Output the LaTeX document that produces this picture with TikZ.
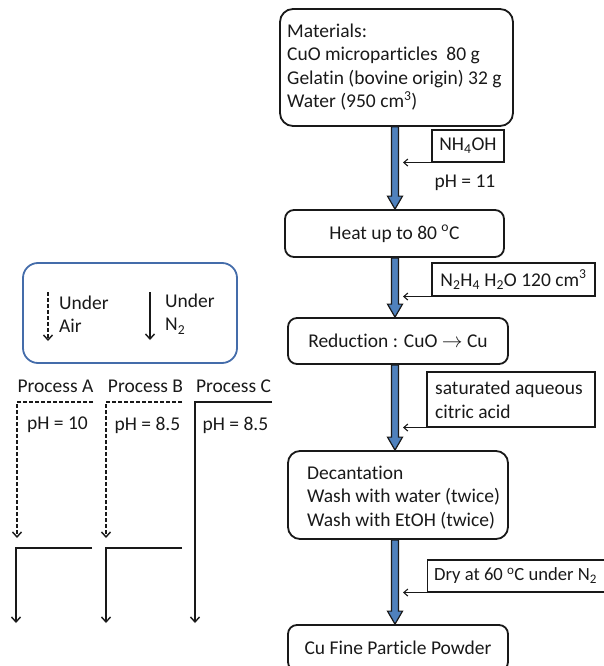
\documentclass[tikz,border=0pt]{standalone}
\usepackage{fontspec}
\setmainfont{Carlito}[Ligatures=NoCommon]
\usetikzlibrary{arrows.meta,calc}
\definecolor{flowblue}{RGB}{79,129,189}
\definecolor{legblue}{RGB}{68,108,170}
\definecolor{ink}{RGB}{25,25,25}
\newcommand\flowarrow[2]{%
  \filldraw[fill=flowblue, draw=ink, line width=1.2pt, line join=miter]
  let \p1=(#1.south -| axis), \p2=(#2.north -| axis) in
  (\x1-3.5pt,\y1) -- (\x1+3.5pt,\y1) -- (\x1+3.5pt,\y2+13pt) -- (\x1+7.5pt,\y2+13pt)
  -- (\x1,\y2) -- (\x1-7.5pt,\y2+13pt) -- (\x1-3.5pt,\y2+13pt) -- cycle;}
\newcommand\degsign{\textsuperscript{o}}
\begin{document}
\begin{tikzpicture}[x=1pt,y=-1pt,
  font=\fontsize{19.5}{23.5}\selectfont, text=ink,
  mainbox/.style={draw=ink, line width=1.8pt, rounded corners=9pt, minimum width=220pt, minimum height=46pt, inner sep=0pt},
  sidebox/.style={draw=ink, line width=1.1pt, inner sep=0pt},
  txt/.style={inner sep=0pt, align=left},
  feed/.style={draw=ink, line width=1.1pt, -{Straight Barb[length=4pt,width=7pt]}},
  proc/.style={draw=ink, line width=1.4pt},
  procarrow/.style={proc, -{Straight Barb[length=5pt,width=9pt]}},
  airline/.style={dash pattern=on 4pt off 2pt},
]
\useasboundingbox (0,0) rectangle (604,666);
\clip (0,0) rectangle (604,666);
\coordinate (axis) at (395,0);
\coordinate (tipx) at (403,0);

% main flow boxes
\node[mainbox, rounded corners=13pt, minimum width=233pt, minimum height=117pt] (mat) at (396.5,67.5) {};
\node[txt, anchor=west] (matt) at (287,67) {Materials:\\CuO microparticles\ \ 80 g\\Gelatin (bovine origin) 32 g\\Water (950 cm\textsuperscript{3})};
\node[mainbox, minimum width=219pt, minimum height=47pt] (heat) at (394.5,233.5) {Heat up to 80 \degsign C};
\node[mainbox] (red) at (398,341) {Reduction : CuO $\rightarrow$ Cu};
\node[mainbox, rounded corners=12pt, minimum height=88pt] (dec) at (398,495) {};
\node[txt, anchor=west] (dect) at (307,497.5) {Decantation\\Wash with water (twice)\\Wash with EtOH (twice)};
\node[mainbox, minimum height=46pt] (cu) at (398,648) {Cu Fine Particle Powder};

\flowarrow{mat}{heat}
\flowarrow{heat}{red}
\flowarrow{red}{dec}
\flowarrow{dec}{cu}

% side additions
\node[sidebox, minimum width=72pt, minimum height=32pt] (nh) at (468,146) {NH\textsubscript{4}OH};
\draw[feed] (nh.south west) -- (nh.south west -| tipx);
\node[txt] (ph11) at (465,183) {pH = 11};

\node[sidebox, minimum width=163pt, minimum height=33pt] (hyd) at (513.5,279.5) {N\textsubscript{2}H\textsubscript{4} H\textsubscript{2}O 120 cm\textsuperscript{3}};
\draw[feed] (hyd.south west) -- (hyd.south west -| tipx);

\node[sidebox, minimum width=168pt, minimum height=55pt] (cit) at (511,399.5) {};
\node[txt, anchor=west] (citt) at (435,400) {saturated aqueous\\citric acid};
\draw[feed] (cit.south west) -- (cit.south west -| tipx);

\node[sidebox, minimum width=200pt, minimum height=32pt, anchor=west] (dry) at (427,576) {};
\node[txt, anchor=west, font=\fontsize{18.6}{22}\selectfont] (dryt) at (434,576) {Dry at 60 \degsign C under N\textsubscript{2}};
\draw[feed] (dry.south west) -- (dry.south west -| tipx);

% legend
\node[draw=legblue, line width=1.8pt, rounded corners=15pt, minimum width=214pt, minimum height=100pt, inner sep=0pt] (leg) at (130,313) {};
\coordinate (la1) at (48,292); \coordinate (la2) at (48,341);
\draw[procarrow, airline] (la1) -- (la2);
\node[txt, anchor=west] (lat) at (59,314) {Under\\Air};
\coordinate (ln1) at (150,292); \coordinate (ln2) at (150,340);
\draw[procarrow] (ln1) -- (ln2);
\node[txt, anchor=west] (lnt) at (165,314) {Under\\N\textsubscript{2}};

% processes
\node[txt] (pa) at (55.5,386) {Process A};
\node[txt] (pb) at (145.5,386) {Process B};
\node[txt] (pc) at (233.5,386) {Process C};
\node[txt] (pha) at (57.5,425) {pH = 10};
\node[txt] (phb) at (147.5,425) {pH = 8.5};
\node[txt] (phc) at (235.5,425) {pH = 8.5};

\coordinate (a0) at (93,402); \coordinate (a1) at (17,402); \coordinate (a2) at (17,538);
\coordinate (b0) at (182,402); \coordinate (b1) at (106,402); \coordinate (b2) at (106,538);
\coordinate (c0) at (272,402); \coordinate (c1) at (195,402); \coordinate (c2) at (195,623);
\coordinate (a3) at (92,548); \coordinate (a4) at (16,548); \coordinate (a5) at (16,623);
\coordinate (b3) at (182,548); \coordinate (b4) at (106,548); \coordinate (b5) at (106,623);

\draw[procarrow, airline] (a0) -- (a1) -- (a2);
\draw[procarrow, airline] (b0) -- (b1) -- (b2);
\draw[procarrow] (c0) -- (c1) -- (c2);
\draw[procarrow] (a3) -- (a4) -- (a5);
\draw[procarrow] (b3) -- (b4) -- (b5);
\end{tikzpicture}
\end{document}
